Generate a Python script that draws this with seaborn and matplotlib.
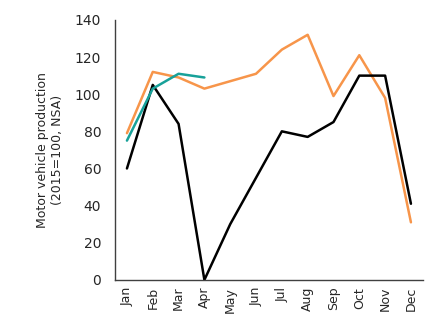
import matplotlib
matplotlib.use("Agg")
import matplotlib.pyplot as plt
import seaborn as sns
import pandas as pd

months = ["Jan", "Feb", "Mar", "Apr", "May", "Jun", "Jul", "Aug", "Sep", "Oct", "Nov", "Dec"]
prod_2019 = [79, 112, 109, 103, 107, 111, 124, 132, 99, 121, 98, 31]
prod_2020 = [60, 105, 84, 0, 30, 55, 80, 77, 85, 110, 110, 41]
prod_2021 = [75, 103, 111, 109]

series_colors = {"2019": "#F7954A", "2020": "#000000", "2021": "#17A199"}

frames = []
for name, vals in [("2019", prod_2019), ("2020", prod_2020), ("2021", prod_2021)]:
    frames.append(pd.DataFrame({"month": list(range(len(vals))), "value": vals, "series": name}))
df = pd.concat(frames, ignore_index=True)

sns.set_theme(style="white")
plt.rcParams["font.family"] = ["DejaVu Sans"]

fig = plt.figure(figsize=(4.46, 3.32), dpi=100)
ax = fig.add_axes([0.258, 0.157, 0.69, 0.783])

sns.lineplot(data=df, x="month", y="value", hue="series", palette=series_colors,
             linewidth=1.8, legend=False, ax=ax, sort=False)

ax.set_xlim(-0.46, 11.46)
ax.set_ylim(0, 140)
ax.set_yticks(range(0, 141, 20))
ax.set_xticks(range(12))
ax.set_xticklabels(months, rotation=90, fontsize=9)
ax.tick_params(axis="y", labelsize=10, length=0, pad=10)
ax.tick_params(axis="x", length=0, pad=5)
ax.set_xlabel("")
ax.set_ylabel("Motor vehicle production\n(2015=100, NSA)", fontsize=9, labelpad=8)

for side in ["top", "right"]:
    ax.spines[side].set_visible(False)
for side in ["left", "bottom"]:
    ax.spines[side].set_color("#404040")
    ax.spines[side].set_linewidth(1.0)

fig.savefig("out.png", dpi=100)
